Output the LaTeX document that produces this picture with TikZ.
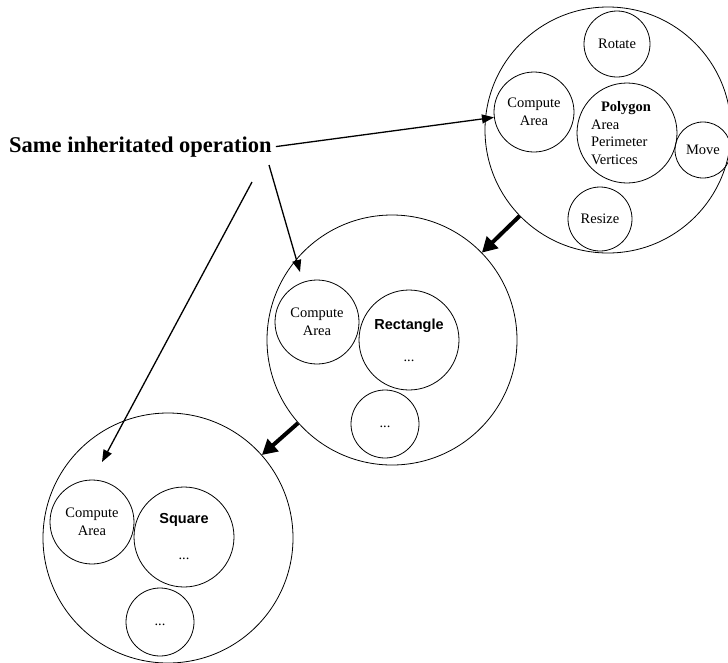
\documentclass[tikz,border=0pt]{standalone}
\usepackage{fontspec}
\setmainfont{Liberation Serif}
\newfontfamily\labelsans{Liberation Sans}
\usetikzlibrary{arrows.meta}

\begin{document}
\begin{tikzpicture}[x=1pt,y=-1pt,
  every node/.style={font=\fontsize{14.5}{17.5}\selectfont},
  bubble/.style={circle,draw,line width=0.8pt,inner sep=0pt,align=center},
  classbubble/.style={bubble,minimum size=#1},
  pointer/.style={line width=1.3pt,-{Triangle[length=12pt,width=9pt]}},
  inherit/.style={line width=4pt,-{Triangle[length=15pt,width=16pt]}},
  classname/.style={font=\fontsize{14.5}{17.5}\selectfont\labelsans\bfseries}
]
\useasboundingbox (0,0) rectangle (728,662);

% Polygon class
\node[classbubble=246pt] (poly) at (608,130) {};
\node[classbubble=66pt]  (rot)  at (617,44)  {Rotate};
\node[classbubble=80pt]  (pca)  at (534,112) {Compute\\Area};
\node[classbubble=100pt] (pin)  at (627,133) {};
\node[align=left,inner sep=0pt] (ptxt) at (621,133)
  {\hspace*{10pt}\textbf{Polygon}\\Area\\Perimeter\\Vertices};
\node[classbubble=56pt]  (move) at (703,150) {Move};
\node[classbubble=64pt]  (res)  at (600,219) {Resize};

% Rectangle class
\node[classbubble=250pt] (rect) at (392,340) {};
\node[classbubble=84pt]  (rca)  at (317,322) {Compute\\Area};
\node[classbubble=100pt] (rin)  at (409,340) {{\labelsans\bfseries Rectangle}\\[14.5pt]...};
\node[classbubble=68pt]  (rsm)  at (385,424) {\strut...};

% Square class
\node[classbubble=250pt] (sq)  at (168,538) {};
\node[classbubble=84pt]  (sca) at (92,522)  {Compute\\Area};
\node[classbubble=100pt] (sin) at (184,537) {{\labelsans\bfseries Square}\\[18.5pt]...};
\node[classbubble=68pt]  (ssm) at (160,622) {\strut...};

% Caption
\node[anchor=base west,inner sep=4pt,font=\fontsize{22.5}{27}\selectfont\bfseries]
  (txt) at (5,152) {Same inheritated operation};

\coordinate (s2) at (269,165);
\coordinate (e2) at (300,272);
\coordinate (s3) at (252,182);
\coordinate (e3) at (102,462);

% Pointers to the inherited operation
\draw[pointer] (txt.east) -- (pca);
\draw[pointer] (s2) -- (e2);
\draw[pointer] (s3) -- (e3);

% Inheritance arrows
\draw[inherit] (poly) -- (rect);
\draw[inherit] (rect) -- (sq);
\end{tikzpicture}
\end{document}
